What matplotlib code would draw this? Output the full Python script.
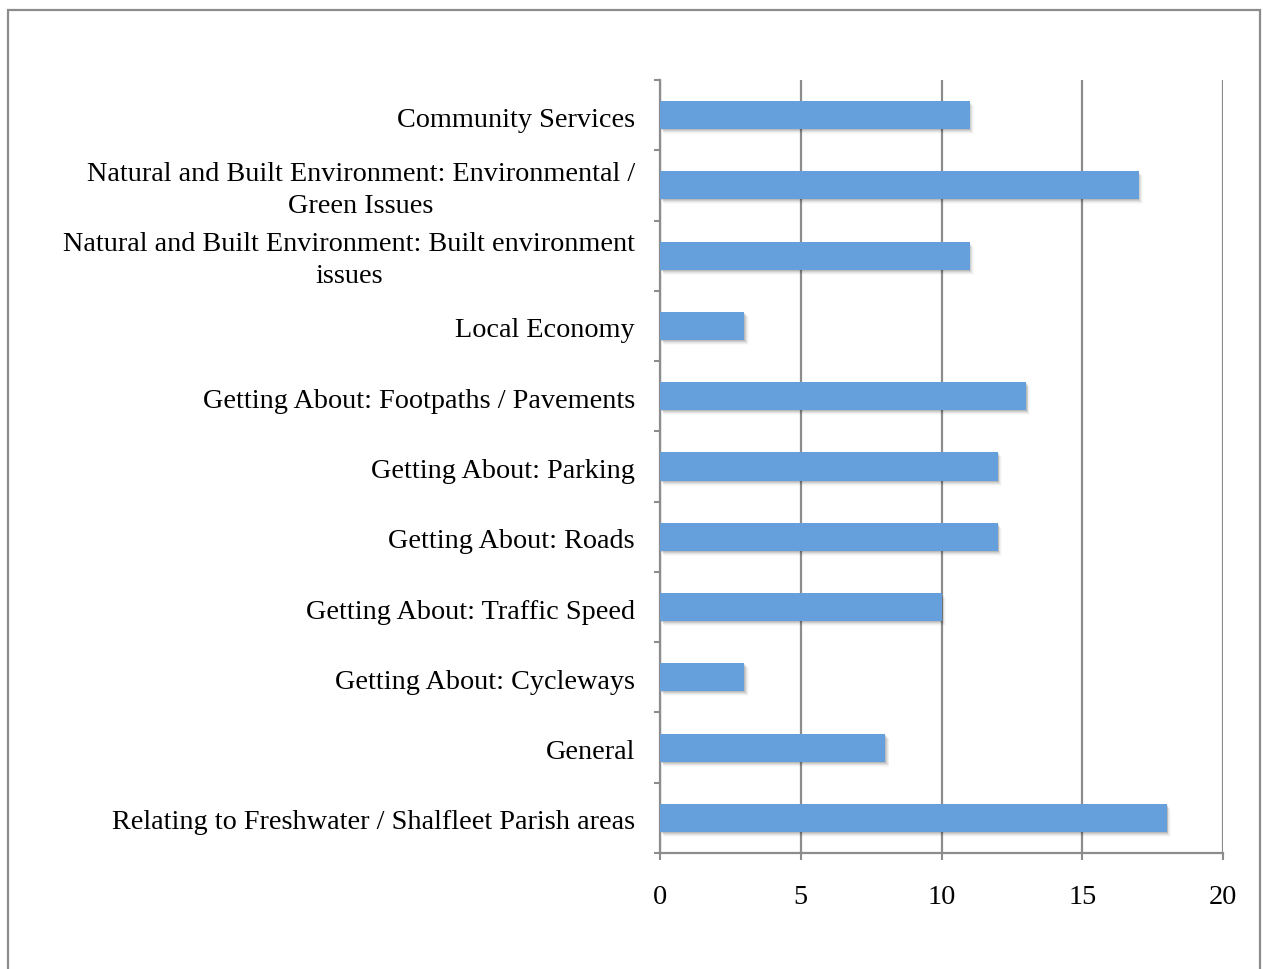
import matplotlib
matplotlib.use("Agg")
import matplotlib.pyplot as plt
import matplotlib.transforms as mtransforms
from matplotlib.patches import Rectangle
import numpy as np

categories = [
    "Community Services",
    "Natural and Built Environment: Environmental /\nGreen Issues",
    "Natural and Built Environment: Built environment\nissues",
    "Local Economy",
    "Getting About: Footpaths / Pavements",
    "Getting About: Parking",
    "Getting About: Roads",
    "Getting About: Traffic Speed",
    "Getting About: Cycleways",
    "General",
    "Relating to Freshwater / Shalfleet Parish areas",
]
values = [11, 17, 11, 3, 13, 12, 12, 10, 3, 8, 18]
xticks = [0, 5, 10, 15, 20]

FONT = "Liberation Serif"
FS = 20.3
GRID = "#8c8c8c"
BAR = "#65a0dc"

W, H, DPI = 1263, 969, 100
fig = plt.figure(figsize=(W / DPI, H / DPI), dpi=DPI)
fig.patch.set_facecolor("white")

# outer frame
fig.patches.append(Rectangle((8 / W, -0.05), (1260 - 8) / W, 1.05 - 10 / H,
                             transform=fig.transFigure, fill=False,
                             edgecolor=GRID, linewidth=1.6))

ax = fig.add_axes([660 / W, 1 - 853 / H, (1223 - 660) / W, (853 - 80) / H])
y = np.arange(len(categories))

# soft shadows
for dx, dy, a in [(1, -1, 0.10), (2, -2, 0.08), (3, -3, 0.06), (4, -4, 0.04), (5, -5, 0.02)]:
    tr = mtransforms.offset_copy(ax.transData, fig=fig, x=dx * 0.6, y=dy * 0.72, units="points")
    ax.barh(y, values, height=0.4, color="#000000", alpha=a, transform=tr, zorder=2, linewidth=0)
ax.barh(y, values, height=0.4, color=BAR, zorder=3, linewidth=0)

ax.set_xlim(0, 20)
ax.set_ylim(len(categories) - 0.5, -0.5)
ax.set_xticks(xticks)
ax.set_xticklabels([str(t) for t in xticks], fontfamily=FONT, fontsize=FS)
ax.set_yticks(y)
ax.set_yticklabels([])
ax.set_yticks(np.arange(len(categories) + 1) - 0.5, minor=True)

# category labels (slightly lowered, like the reference)
lab_tr = mtransforms.blended_transform_factory(ax.transAxes, ax.transData)
for yi, cat in zip(y, categories):
    tr = mtransforms.offset_copy(lab_tr, fig=fig, x=-18, y=-3.6, units="points")
    ax.text(0, yi, cat, transform=tr, ha="right", va="center", multialignment="center",
            fontfamily=FONT, fontsize=FS, linespacing=1.35, clip_on=False)

ax.tick_params(axis="y", which="major", length=0)
ax.tick_params(axis="y", which="minor", length=4, width=1.5, color=GRID, direction="out")
ax.tick_params(axis="x", which="major", length=5, width=1.5, color=GRID, direction="out", pad=18)

ax.xaxis.grid(True, color=GRID, linewidth=1.6, zorder=1)
ax.set_axisbelow(True)
for s in ["top", "right"]:
    ax.spines[s].set_visible(False)
for s in ["left", "bottom"]:
    ax.spines[s].set_color(GRID)
    ax.spines[s].set_linewidth(1.6)

fig.savefig("out.png", dpi=DPI, facecolor="white")
